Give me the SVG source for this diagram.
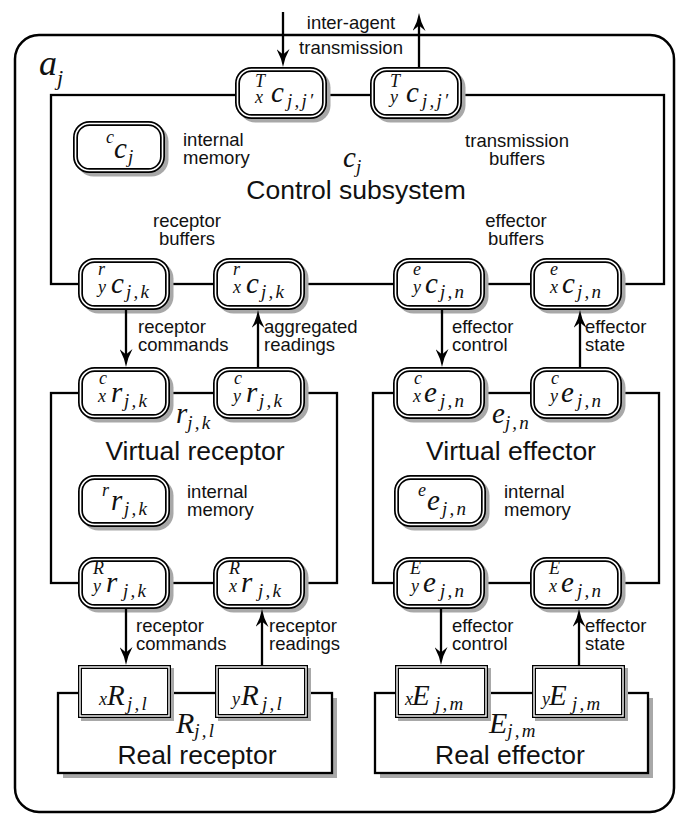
<svg xmlns="http://www.w3.org/2000/svg" xmlns:xlink="http://www.w3.org/1999/xlink" width="676" height="814" viewBox="0 0 676 814">
  <style>
    .frame { fill: #fff; stroke: #000; stroke-width: 2.5; }
    .wall { fill: none; stroke: #000; stroke-width: 2.3; }
    .box { fill: #fff; stroke: #000; stroke-width: 2.3; }
    .sh { fill: #a8a8a8; }
    .arrow { fill: none; stroke: #000; stroke-width: 2.3; marker-end: url(#head); }
    .lbl { font-family: "Liberation Sans", Arial, sans-serif; font-size: 18.5px; fill: #111; }
    .mid { text-anchor: middle; }
    .big { font-size: 26.5px; }
    .m { font-family: "Liberation Serif", "Times New Roman", serif; font-style: italic; font-size: 29px; fill: #111; }
    .s { font-size: 18px; }
    .ss { font-size: 19px; letter-spacing: 2.2px; }
  </style>
  <defs>
    <marker id="head" viewBox="0 0 18 13" refX="7" refY="6.5" markerWidth="18" markerHeight="13" markerUnits="userSpaceOnUse" orient="auto">
      <path d="M0,0 Q9,5 18,6.5 Q9,8 0,13 L5.5,6.5 Z" fill="#000"/>
    </marker>
    <!-- rounded buffer / memory node: shadow, double outline -->
    <g id="rn">
      <rect x="3.5" y="3.5" width="92" height="52" rx="17" class="sh"/>
      <rect x="2.5" y="2.5" width="87" height="47" rx="14" fill="#fff" stroke="#000" stroke-width="5"/>
      <rect x="2.5" y="2.5" width="87" height="47" rx="14" fill="none" stroke="#fff" stroke-width="1.6"/>
    </g>
    <!-- square node of a real device -->
    <g id="qn">
      <rect x="3" y="3" width="93" height="53" class="sh"/>
      <rect x="2" y="2" width="89" height="49" fill="#fff" stroke="#000" stroke-width="4"/>
      <rect x="2" y="2" width="89" height="49" fill="none" stroke="#fff" stroke-width="1.4"/>
    </g>
  </defs>

  <!-- agent frame -->
  <rect x="15" y="35" width="659" height="777" rx="24" class="frame"/>
  <text class="m" x="39" y="75" style="font-size:36px">a<tspan class="s" dy="10" style="font-size:22px">j</tspan></text>

  <!-- subsystem outlines -->
  <g id="containers">
    <rect x="51" y="95" width="613" height="189" class="wall"/>
    <rect x="51" y="393" width="286" height="190" class="wall"/>
    <rect x="373" y="393" width="286" height="190" class="wall"/>
    <rect x="63" y="698" width="274" height="80" class="sh"/>
    <rect x="58" y="693" width="274" height="80" class="box"/>
    <rect x="380" y="698" width="273" height="80" class="sh"/>
    <rect x="375" y="693" width="273" height="80" class="box"/>
  </g>

  <!-- control subsystem -->
  <g id="n-txc">
    <use xlink:href="#rn" x="235" y="67"/>
    <text class="m"><tspan class="s" x="255" y="87">T</tspan><tspan class="s" x="255" y="103">x</tspan><tspan x="271" y="102">c</tspan><tspan class="ss" x="287" y="107">j,j′</tspan></text>
  </g>
  <g id="n-tyc">
    <use xlink:href="#rn" x="370" y="67"/>
    <text class="m"><tspan class="s" x="390" y="87">T</tspan><tspan class="s" x="390" y="103">y</tspan><tspan x="406" y="102">c</tspan><tspan class="ss" x="422" y="107">j,j′</tspan></text>
  </g>
  <g id="n-ccj">
    <use xlink:href="#rn" x="73" y="121"/>
    <text class="m"><tspan class="s" x="106" y="143">c</tspan><tspan x="114" y="158">c</tspan><tspan class="ss" x="128" y="163">j</tspan></text>
  </g>
  <g id="n-ryc">
    <use xlink:href="#rn" x="78" y="258"/>
    <text class="m"><tspan class="s" x="98" y="275">r</tspan><tspan class="s" x="98" y="293">y</tspan><tspan x="111" y="293">c</tspan><tspan class="ss" x="126" y="298">j,k</tspan></text>
  </g>
  <g id="n-rxc">
    <use xlink:href="#rn" x="213" y="258"/>
    <text class="m"><tspan class="s" x="233" y="275">r</tspan><tspan class="s" x="233" y="293">x</tspan><tspan x="246" y="293">c</tspan><tspan class="ss" x="261" y="298">j,k</tspan></text>
  </g>
  <g id="n-eyc">
    <use xlink:href="#rn" x="393" y="258"/>
    <text class="m"><tspan class="s" x="413" y="275">e</tspan><tspan class="s" x="413" y="293">y</tspan><tspan x="425" y="293">c</tspan><tspan class="ss" x="440" y="298">j,n</tspan></text>
  </g>
  <g id="n-exc">
    <use xlink:href="#rn" x="530" y="258"/>
    <text class="m"><tspan class="s" x="550" y="275">e</tspan><tspan class="s" x="550" y="293">x</tspan><tspan x="562" y="293">c</tspan><tspan class="ss" x="577" y="298">j,n</tspan></text>
  </g>

  <!-- virtual receptor -->
  <g id="n-cxr">
    <use xlink:href="#rn" x="78" y="367"/>
    <text class="m"><tspan class="s" x="99" y="384">c</tspan><tspan class="s" x="98" y="402">x</tspan><tspan x="111" y="402">r</tspan><tspan class="ss" x="124" y="407">j,k</tspan></text>
  </g>
  <g id="n-cyr">
    <use xlink:href="#rn" x="213" y="367"/>
    <text class="m"><tspan class="s" x="234" y="384">c</tspan><tspan class="s" x="233" y="402">y</tspan><tspan x="246" y="402">r</tspan><tspan class="ss" x="259" y="407">j,k</tspan></text>
  </g>
  <g id="n-rrj">
    <use xlink:href="#rn" x="78" y="475"/>
    <text class="m"><tspan class="s" x="102" y="496">r</tspan><tspan x="111" y="510">r</tspan><tspan class="ss" x="124" y="515">j,k</tspan></text>
  </g>
  <g id="n-ryr">
    <use xlink:href="#rn" x="78" y="557"/>
    <text class="m"><tspan class="s" x="93" y="574">R</tspan><tspan class="s" x="93" y="592">y</tspan><tspan x="106" y="592">r</tspan><tspan class="ss" x="123" y="597">j,k</tspan></text>
  </g>
  <g id="n-rxr">
    <use xlink:href="#rn" x="213" y="557"/>
    <text class="m"><tspan class="s" x="229" y="574">R</tspan><tspan class="s" x="229" y="592">x</tspan><tspan x="241" y="592">r</tspan><tspan class="ss" x="258" y="597">j,k</tspan></text>
  </g>
  <text class="m" x="176" y="423">r<tspan class="ss" dy="6">j,k</tspan></text>

  <!-- virtual effector -->
  <g id="n-cxe">
    <use xlink:href="#rn" x="393" y="367"/>
    <text class="m"><tspan class="s" x="414" y="384">c</tspan><tspan class="s" x="413" y="402">x</tspan><tspan x="424" y="402">e</tspan><tspan class="ss" x="440" y="407">j,n</tspan></text>
  </g>
  <g id="n-cye">
    <use xlink:href="#rn" x="530" y="367"/>
    <text class="m"><tspan class="s" x="551" y="384">c</tspan><tspan class="s" x="550" y="402">y</tspan><tspan x="561" y="402">e</tspan><tspan class="ss" x="577" y="407">j,n</tspan></text>
  </g>
  <g id="n-eej">
    <use xlink:href="#rn" x="394" y="475"/>
    <text class="m"><tspan class="s" x="418" y="496">e</tspan><tspan x="427" y="510">e</tspan><tspan class="ss" x="442" y="515">j,n</tspan></text>
  </g>
  <g id="n-eye">
    <use xlink:href="#rn" x="393" y="557"/>
    <text class="m"><tspan class="s" x="410" y="574">E</tspan><tspan class="s" x="411" y="592">y</tspan><tspan x="423" y="592">e</tspan><tspan class="ss" x="440" y="597">j,n</tspan></text>
  </g>
  <g id="n-exe">
    <use xlink:href="#rn" x="530" y="557"/>
    <text class="m"><tspan class="s" x="549" y="574">E</tspan><tspan class="s" x="549" y="592">x</tspan><tspan x="561" y="592">e</tspan><tspan class="ss" x="577" y="597">j,n</tspan></text>
  </g>
  <text class="m" x="492" y="423">e<tspan class="ss" dy="6">j,n</tspan></text>

  <!-- real receptor and effector -->
  <g id="n-xr">
    <use xlink:href="#qn" x="78" y="665"/>
    <text class="m"><tspan class="s" x="99" y="705">x</tspan><tspan x="107" y="705">R</tspan><tspan class="ss" x="127" y="710">j,l</tspan></text>
  </g>
  <g id="n-yr">
    <use xlink:href="#qn" x="215" y="665"/>
    <text class="m"><tspan class="s" x="232" y="705">y</tspan><tspan x="241" y="705">R</tspan><tspan class="ss" x="262" y="710">j,l</tspan></text>
  </g>
  <g id="n-xe">
    <use xlink:href="#qn" x="395" y="665"/>
    <text class="m"><tspan class="s" x="405" y="705">x</tspan><tspan x="412" y="705">E</tspan><tspan class="ss" x="435" y="710">j,m</tspan></text>
  </g>
  <g id="n-ye">
    <use xlink:href="#qn" x="532" y="665"/>
    <text class="m"><tspan class="s" x="542" y="705">y</tspan><tspan x="549" y="705">E</tspan><tspan class="ss" x="572" y="710">j,m</tspan></text>
  </g>
  <text class="m" x="176" y="733" style="font-size:30px">R<tspan class="ss" dy="4">j,l</tspan></text>
  <text class="m" x="489" y="733" style="font-size:30px">E<tspan class="ss" dy="4">j,m</tspan></text>

  <!-- connectors -->
  <g id="connectors">
    <line x1="283" y1="12" x2="283" y2="56" class="arrow"/>
    <line x1="419" y1="67" x2="419" y2="24" class="arrow"/>
    <line x1="126" y1="310" x2="126" y2="356" class="arrow"/>
    <line x1="258" y1="367" x2="258" y2="321" class="arrow"/>
    <line x1="442" y1="310" x2="442" y2="356" class="arrow"/>
    <line x1="580" y1="367" x2="580" y2="321" class="arrow"/>
    <line x1="126" y1="609" x2="126" y2="654" class="arrow"/>
    <line x1="262" y1="665" x2="262" y2="620" class="arrow"/>
    <line x1="441" y1="609" x2="441" y2="654" class="arrow"/>
    <line x1="579" y1="665" x2="579" y2="620" class="arrow"/>
  </g>

  <!-- captions -->
  <g id="captions">
    <text class="lbl mid" x="351" y="29">inter-agent</text>
    <text class="lbl mid" x="351" y="54">transmission</text>
    <text class="lbl" x="183" y="146">internal</text>
    <text class="lbl" x="183" y="164">memory</text>
    <text class="m" x="343" y="167">c<tspan class="ss" dy="6">j</tspan></text>
    <text class="lbl mid" x="517" y="147">transmission</text>
    <text class="lbl mid" x="517" y="165">buffers</text>
    <text class="lbl mid big" x="356" y="199">Control subsystem</text>
    <text class="lbl mid" x="187" y="227">receptor</text>
    <text class="lbl mid" x="187" y="245">buffers</text>
    <text class="lbl mid" x="516" y="227">effector</text>
    <text class="lbl mid" x="516" y="245">buffers</text>
    <text class="lbl" x="138" y="333">receptor</text>
    <text class="lbl" x="138" y="351">commands</text>
    <text class="lbl" x="264" y="333">aggregated</text>
    <text class="lbl" x="264" y="351">readings</text>
    <text class="lbl" x="452" y="333">effector</text>
    <text class="lbl" x="452" y="351">control</text>
    <text class="lbl" x="585" y="333">effector</text>
    <text class="lbl" x="585" y="351">state</text>
    <text class="lbl mid big" x="195" y="460">Virtual receptor</text>
    <text class="lbl mid big" x="511" y="460">Virtual effector</text>
    <text class="lbl" x="187" y="498">internal</text>
    <text class="lbl" x="187" y="516">memory</text>
    <text class="lbl" x="504" y="498">internal</text>
    <text class="lbl" x="504" y="516">memory</text>
    <text class="lbl" x="136" y="632">receptor</text>
    <text class="lbl" x="136" y="650">commands</text>
    <text class="lbl" x="269" y="632">receptor</text>
    <text class="lbl" x="269" y="650">readings</text>
    <text class="lbl" x="452" y="632">effector</text>
    <text class="lbl" x="452" y="650">control</text>
    <text class="lbl" x="585" y="632">effector</text>
    <text class="lbl" x="585" y="650">state</text>
    <text class="lbl mid big" x="197" y="764">Real receptor</text>
    <text class="lbl mid big" x="510" y="764">Real effector</text>
  </g>
</svg>
